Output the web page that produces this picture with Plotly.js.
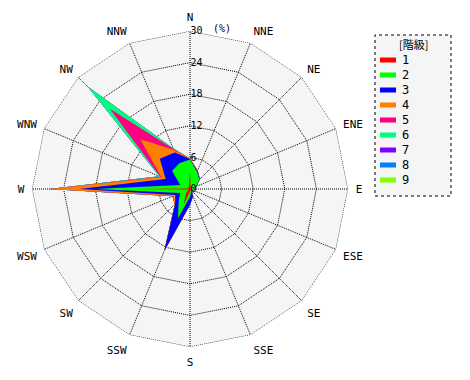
<!DOCTYPE html>
<html>
<head>
<meta charset="utf-8">
<script src="https://cdn.plot.ly/plotly-3.0.1.min.js"></script>
<style>html,body{margin:0;padding:0;background:#fff;}#chart{width:470px;height:380px;}</style>
</head>
<body>
<div id="chart"></div>
<script>
// 16 wind directions
const directions = ['N','NNE','NE','ENE','E','ESE','SE','SSE','S','SSW','SW','WSW','W','WNW','NW','NNW'];
// classes (階級)
const classNames = ['1','2','3','4','5','6','7','8','9'];
const classColors = ['#ff0000','#00ff00','#0000ff','#ff8000','#ff0080','#00ff80','#8000ff','#0080ff','#80ff00'];
// frequency (%) of each class by direction
const class1 = [3.3,0.3,0.3,0.2,0.3,0.2,0.2,0.3,0.5,3.3,1.0,0.3,11.0,0.3,0.5,0.5];
const class2 = [2.3,3.2,2.2,1.0,0.7,0.3,0.2,0.3,1.0,2.7,2.0,1.7,7.0,1.7,4.3,4.8];
const class3 = [0.1,0.2,0.1,0.1,0.1,0.1,0.1,0.9,1.5,6.7,1.0,1.0,3.0,3.0,3.3,2.2];
const class4 = [0.1,0.1,0.1,0.0,0.0,0.0,0.0,0.0,0.0,0.1,0.1,0.5,5.5,0.9,5.3,0.5];
const class5 = [0.0,0.0,0.0,0.0,0.0,0.0,0.0,0.0,0.0,0.0,0.0,0.1,0.2,0.2,8.2,0.2];
const class6 = [0.0,0.0,0.0,0.0,0.0,0.0,0.0,0.0,0.0,0.0,0.0,0.0,0.1,0.2,5.9,0.2];
const class7 = [0,0,0,0,0,0,0,0,0,0,0,0,0,0,0,0];
const class8 = [0,0,0,0,0,0,0,0,0,0,0,0,0,0,0,0];
const class9 = [0,0,0,0,0,0,0,0,0,0,0,0,0,0,0,0];
const radialTicks = [0,6,12,18,24,30];

const classValues = [class1,class2,class3,class4,class5,class6,class7,class8,class9];
const radialMax = radialTicks[radialTicks.length - 1];

// cumulative stacking
const cumulative = [];
let running = directions.map(() => 0);
classValues.forEach(vals => {
  running = running.map((v, i) => v + vals[i]);
  cumulative.push(running.slice());
});

const traces = [];
for (let c = classValues.length - 1; c >= 0; c--) {
  traces.push({
    type: 'scatterpolar',
    r: cumulative[c].concat([cumulative[c][0]]),
    theta: directions.concat([directions[0]]),
    mode: 'lines',
    fill: 'toself',
    fillcolor: classColors[c],
    line: {width: 0, color: classColors[c]},
    name: classNames[c],
    showlegend: false,
    hoverinfo: 'skip'
  });
}
// dotted outer frame at the top of the radial range
traces.push({
  type: 'scatterpolar',
  r: directions.map(() => radialMax).concat([radialMax]),
  theta: directions.concat([directions[0]]),
  mode: 'lines',
  line: {color: '#000', width: 1, dash: '1px,1px'},
  showlegend: false,
  hoverinfo: 'skip',
  cliponaxis: false
});

const font = 'DejaVu Sans Mono, monospace';
const W = 470, H = 380;
const px = x => x / W;
const py = y => (H - y) / H;

const shapes = [{
  type: 'rect', xref: 'paper', yref: 'paper',
  x0: px(375), x1: px(451), y0: py(196), y1: py(35),
  line: {color: '#000', width: 1, dash: 'dot'},
  fillcolor: '#f5f5f5', layer: 'below'
}];
const annotations = [{
  xref: 'paper', yref: 'paper', x: px(413), y: py(44), text: '[階級]',
  showarrow: false, xanchor: 'center', yanchor: 'middle',
  font: {family: 'Noto Sans CJK JP, ' + font, size: 11, color: '#000'}
}, {
  xref: 'paper', yref: 'paper', x: px(211), y: py(28), text: '(%)',
  showarrow: false, xanchor: 'left', yanchor: 'middle',
  font: {family: font, size: 10, color: '#000'}
}];
classNames.forEach((name, i) => {
  const yy = 60 + 15 * i;
  shapes.push({
    type: 'line', xref: 'paper', yref: 'paper',
    x0: px(380), x1: px(396), y0: py(yy), y1: py(yy),
    line: {color: classColors[i], width: 5}
  });
  annotations.push({
    xref: 'paper', yref: 'paper', x: px(400), y: py(yy), text: name,
    showarrow: false, xanchor: 'left', yanchor: 'middle',
    font: {family: font, size: 12, color: '#000'}
  });
});

const layout = {
  width: W, height: H,
  margin: {l: 0, r: 0, t: 0, b: 0},
  paper_bgcolor: '#ffffff',
  showlegend: false,
  polar: {
    domain: {x: [px(32), px(348)], y: [py(347), py(31)]},
    bgcolor: '#f5f5f5',
    gridshape: 'linear',
    angularaxis: {
      type: 'category', categoryarray: directions,
      direction: 'clockwise', rotation: 90,
      showline: false,
      showgrid: true, gridcolor: '#000', gridwidth: 1, griddash: '1px,1px',
      ticks: 'outside', ticklen: 5, tickcolor: 'rgba(0,0,0,0)',
      tickfont: {family: font, size: 11, color: '#000'},
      layer: 'above traces'
    },
    radialaxis: {
      range: [0, radialMax], tickvals: radialTicks, angle: 90, tickangle: 90,
      tickprefix: '\u00a0\u00a0',
      showline: false, ticks: '',
      showgrid: true, gridcolor: '#000', gridwidth: 1, griddash: '1px,1px',
      tickfont: {family: font, size: 10, color: '#000'},
      layer: 'above traces'
    }
  },
  shapes: shapes,
  annotations: annotations
};

Plotly.newPlot('chart', traces, layout, {staticPlot: true});
</script>
</body>
</html>
